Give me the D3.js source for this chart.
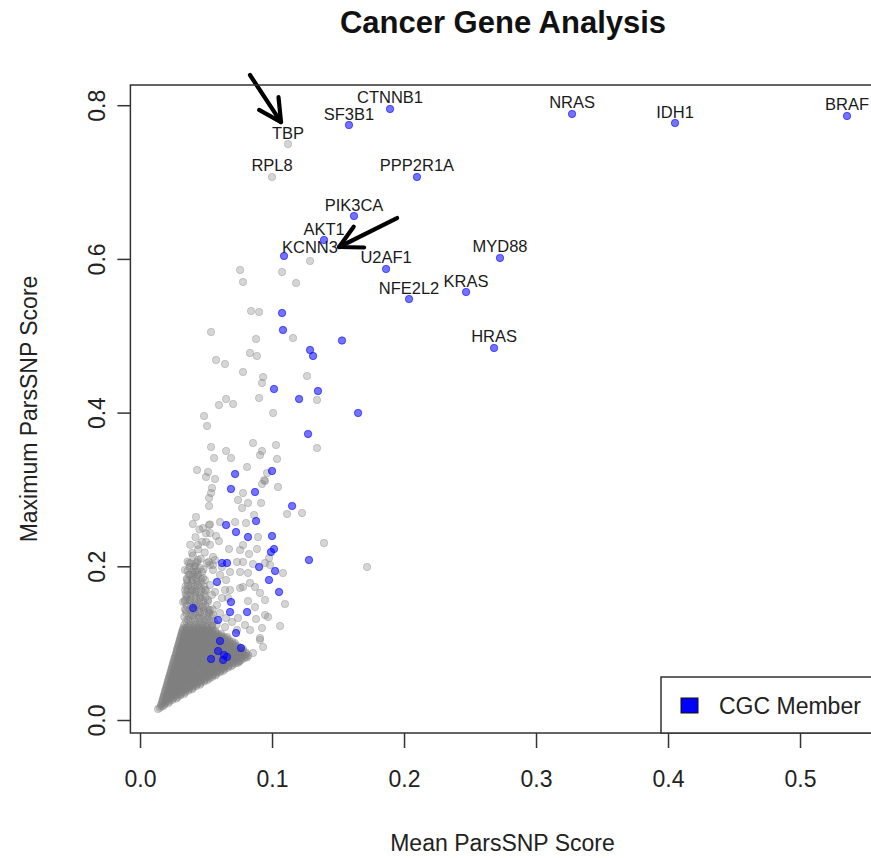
<!DOCTYPE html>
<html>
<head>
<meta charset="utf-8">
<title>Cancer Gene Analysis</title>
<script src="https://cdn.jsdelivr.net/npm/d3@7/dist/d3.min.js"></script>
<style>
  html, body { margin: 0; padding: 0; background: #fff; }
  svg { display: block; font-family: "Liberation Sans", Arial, Helvetica, sans-serif; }
</style>
</head>
<body>
<svg id="chart" width="871" height="858"></svg>
<script>
// ---- Data: mean vs maximum ParsSNP score per gene ----

// Named genes (isCGC: member of the Cancer Gene Census)
const geneNames = ["CTNNB1", "SF3B1", "TBP", "RPL8", "PPP2R1A", "NRAS", "IDH1", "BRAF",
                   "PIK3CA", "AKT1", "KCNN3", "U2AF1", "NFE2L2", "KRAS", "MYD88", "HRAS"];
const geneMean  = [0.1894, 0.1583, 0.1121, 0.1000, 0.2098, 0.3273, 0.4053, 0.5356,
                   0.1621, 0.1394, 0.1091, 0.1864, 0.2038, 0.2470, 0.2727, 0.2682];
const geneMax   = [0.7951, 0.7742, 0.7495, 0.7066, 0.7066, 0.7886, 0.7768, 0.7860,
                   0.6558, 0.6246, 0.6038, 0.5869, 0.5478, 0.5569, 0.6012, 0.4841];
const geneIsCGC = [true, true, false, false, true, true, true, true,
                   true, true, true, true, true, true, true, true];

// Other CGC member genes
const cgcMean = [0.1076, 0.1083, 0.1530, 0.1288, 0.1311, 0.1015, 0.1348, 0.1205, 0.1652, 0.1273,
                 0.0720, 0.1000, 0.0689, 0.0871, 0.1152, 0.0879, 0.0652, 0.0727, 0.0818, 0.1000,
                 0.1015, 0.0992, 0.0621, 0.0659, 0.1280, 0.0902, 0.1023, 0.0977, 0.0583, 0.1053,
                 0.0402, 0.0689, 0.0682, 0.0811, 0.0591, 0.0727, 0.0765, 0.0606, 0.0591, 0.0636,
                 0.0538, 0.0629, 0.0659];
const cgcMax  = [0.5296, 0.5075, 0.4938, 0.4815, 0.4737, 0.4307, 0.4281, 0.4177, 0.3995, 0.3722,
                 0.3201, 0.3240, 0.3006, 0.2967, 0.2785, 0.2589, 0.2537, 0.2446, 0.2381, 0.2394,
                 0.2225, 0.2186, 0.2043, 0.2043, 0.2082, 0.1991, 0.1939, 0.1822, 0.1796, 0.1666,
                 0.1457, 0.1535, 0.1405, 0.1405, 0.1301, 0.1132, 0.0937, 0.1028, 0.0898, 0.0846,
                 0.0794, 0.0781, 0.0820];

// Other (non-CGC) genes outside the dense core
const otherMean = [0.1288, 0.0758, 0.1076, 0.0780, 0.1182, 0.0841, 0.0902, 0.0538, 0.0879, 0.1159,
                   0.0833, 0.0886, 0.0576, 0.0644, 0.0780, 0.0932, 0.0924, 0.1265, 0.0652, 0.0902,
                   0.1341, 0.0598, 0.0705, 0.1008, 0.0485, 0.0508, 0.0856, 0.0538, 0.1030, 0.1341,
                   0.0652, 0.0924, 0.0909, 0.0561, 0.0689, 0.1038, 0.0811, 0.0432, 0.0515, 0.0962,
                   0.0500, 0.0568, 0.0947, 0.0940, 0.0924, 0.1045, 0.0545, 0.0780, 0.0538, 0.0742,
                   0.0818, 0.0523, 0.0523, 0.0773, 0.0917, 0.1114, 0.1227, 0.0424, 0.0864, 0.0803,
                   0.0720, 0.0523, 0.0530, 0.0606, 0.0477, 0.0576, 0.0530, 0.0894, 0.1394, 0.0500,
                   0.0780, 0.0598, 0.0439, 0.0674, 0.0886, 0.0394, 0.0826, 0.0758, 0.0977, 0.0371,
                   0.0735, 0.0856, 0.0985, 0.0553, 0.0780, 0.0947, 0.0553, 0.0439, 0.1083, 0.1720,
                   0.0682, 0.0758, 0.0818, 0.0553, 0.0758, 0.0833, 0.0871, 0.0780, 0.0909, 0.0947,
                   0.0818, 0.0871, 0.0970, 0.0924, 0.0932, 0.0909, 0.0856, 0.0755, 0.0811, 0.1098,
                   0.1061, 0.0947, 0.0879, 0.0909, 0.0742, 0.0356, 0.0326, 0.0735, 0.0136,
                   0.0341, 0.0379, 0.0417, 0.0455, 0.0402, 0.0439, 0.0477, 0.0364, 0.0417, 0.0455,
                   0.0492, 0.0530, 0.0568, 0.0515, 0.0379, 0.0424, 0.0477, 0.0530, 0.0583, 0.0621,
                   0.0644, 0.0606, 0.0652, 0.0682, 0.0667, 0.0348, 0.0394, 0.0447, 0.0500, 0.0553,
                   0.0606, 0.0652, 0.0697, 0.0742, 0.0795, 0.0833, 0.0364, 0.0348, 0.0417, 0.0470,
                   0.0545, 0.0644, 0.0508, 0.0470, 0.0568, 0.0621, 0.0492, 0.0530, 0.0432, 0.0356,
                   0.0394, 0.0341, 0.0439, 0.0341, 0.0402, 0.0455, 0.0545, 0.0520,
                   0.0400, 0.0450, 0.0500, 0.0420, 0.0470, 0.0530, 0.0380, 0.0440, 0.0490, 0.0400,
                   0.0460, 0.0520, 0.0360, 0.0420, 0.0480];
const otherMax  = [0.5973, 0.5856, 0.5830, 0.5699, 0.5686, 0.5322, 0.5309, 0.5049, 0.4958, 0.4970,
                   0.4776, 0.4737, 0.4684, 0.4632, 0.4528, 0.4463, 0.4385, 0.4476, 0.4177, 0.4190,
                   0.4164, 0.4099, 0.4112, 0.3995, 0.3956, 0.3826, 0.3604, 0.3552, 0.3578, 0.3539,
                   0.3500, 0.3500, 0.3448, 0.3409, 0.3409, 0.3396, 0.3292, 0.3253, 0.3227, 0.3214,
                   0.3162, 0.3136, 0.3110, 0.3122, 0.3071, 0.3032, 0.3019, 0.2954, 0.2954, 0.2863,
                   0.2824, 0.2889, 0.2785, 0.2759, 0.2824, 0.2681, 0.2694, 0.2642, 0.2668, 0.2563,
                   0.2576, 0.2537, 0.2545, 0.2576, 0.2498, 0.2394, 0.2433, 0.2381, 0.2303, 0.2316,
                   0.2277, 0.2329, 0.2277, 0.2225, 0.2225, 0.2173, 0.2160, 0.2212, 0.2108, 0.2043,
                   0.2056, 0.2030, 0.2017, 0.2017, 0.2056, 0.2043, 0.2121, 0.2082, 0.1913, 0.1991,
                   0.1926, 0.1926, 0.1913, 0.1952, 0.1718, 0.1783, 0.1731, 0.1731, 0.1653, 0.1561,
                   0.1548, 0.1470, 0.1340, 0.1197, 0.0950, 0.1041, 0.0872, 0.0765, 0.0815, 0.1509,
                   0.1223, 0.1366, 0.1314, 0.1067, 0.0745, 0.1627, 0.1535, 0.1171, 0.0143,
                   0.1952, 0.1887, 0.1926, 0.1978, 0.1822, 0.1757, 0.1848, 0.1744, 0.1666, 0.1588,
                   0.1692, 0.1757, 0.1666, 0.1561, 0.1561, 0.1496, 0.1470, 0.1431, 0.1496, 0.1588,
                   0.1692, 0.1887, 0.1822, 0.1692, 0.1588, 0.1431, 0.1366, 0.1327, 0.1301, 0.1366,
                   0.1392, 0.1327, 0.1275, 0.1327, 0.1236, 0.1171, 0.1301, 0.1197, 0.1236, 0.1236,
                   0.1223, 0.1210, 0.2043, 0.1926, 0.2082, 0.1991, 0.1822, 0.2017, 0.2056, 0.1822,
                   0.1692, 0.1692, 0.1887, 0.1561, 0.1431, 0.1405, 0.1627, 0.1400,
                   0.2550, 0.2480, 0.2430, 0.2380, 0.2320, 0.2280, 0.2280, 0.2220, 0.2180, 0.2140,
                   0.2100, 0.2060, 0.2060, 0.2000, 0.1960];

// Dense core of low-scoring genes: one row of mean scores per maximum-score level
const coreMax = [0.016, 0.018, 0.020, 0.022, 0.024, 0.026, 0.028, 0.030, 0.032, 0.034,
                 0.036, 0.038, 0.040, 0.042, 0.044, 0.046, 0.048, 0.050, 0.052, 0.054,
                 0.056, 0.058, 0.060, 0.062, 0.064, 0.066, 0.068, 0.070, 0.072, 0.074,
                 0.076, 0.078, 0.080, 0.082, 0.084, 0.086, 0.088, 0.090, 0.092, 0.094,
                 0.096, 0.098, 0.100, 0.102, 0.104, 0.106, 0.108, 0.110, 0.112, 0.114,
                 0.116, 0.118, 0.120,
                 0.124, 0.129, 0.134, 0.139, 0.144, 0.149, 0.154, 0.159, 0.164, 0.169,
                 0.174, 0.179, 0.184, 0.189, 0.194, 0.199, 0.204];
const coreMean = [
  [0.015],
  [0.016, 0.0175],
  [0.016, 0.0185],
  [0.0165, 0.019, 0.0215],
  [0.017, 0.0195, 0.022],
  [0.017, 0.0195, 0.022, 0.0245],
  [0.0175, 0.020, 0.0225, 0.025, 0.0275],
  [0.018, 0.0205, 0.023, 0.0255, 0.0285],
  [0.018, 0.0205, 0.023, 0.0255, 0.028, 0.0305],
  [0.0185, 0.021, 0.0235, 0.026, 0.0285, 0.031, 0.0335],
  [0.019, 0.0215, 0.024, 0.0265, 0.029, 0.0315, 0.034],
  [0.019, 0.0215, 0.024, 0.0265, 0.029, 0.0315, 0.034, 0.0365],
  [0.0195, 0.022, 0.0245, 0.027, 0.0295, 0.032, 0.0345, 0.037, 0.0395],
  [0.020, 0.0225, 0.025, 0.0275, 0.030, 0.0325, 0.035, 0.0375, 0.040],
  [0.020, 0.0225, 0.025, 0.0275, 0.030, 0.0325, 0.035, 0.0375, 0.040, 0.0425],
  [0.0205, 0.023, 0.0255, 0.028, 0.0305, 0.033, 0.0355, 0.038, 0.0405, 0.043, 0.0455],
  [0.021, 0.0235, 0.026, 0.0285, 0.031, 0.0335, 0.036, 0.0385, 0.041, 0.0435, 0.046],
  [0.021, 0.0235, 0.026, 0.0285, 0.031, 0.0335, 0.036, 0.0385, 0.041, 0.0435, 0.046, 0.0485],
  [0.0215, 0.024, 0.0265, 0.029, 0.0315, 0.034, 0.0365, 0.039, 0.0415, 0.044, 0.0465, 0.049, 0.051],
  [0.022, 0.0245, 0.027, 0.0295, 0.032, 0.0345, 0.037, 0.0395, 0.042, 0.0445, 0.047, 0.0495, 0.0525],
  [0.022, 0.0245, 0.027, 0.0295, 0.032, 0.0345, 0.037, 0.0395, 0.042, 0.0445, 0.047, 0.0495, 0.052, 0.0545],
  [0.0225, 0.025, 0.0275, 0.030, 0.0325, 0.035, 0.0375, 0.040, 0.0425, 0.045, 0.0475, 0.050, 0.0525, 0.055, 0.057],
  [0.023, 0.0255, 0.028, 0.0305, 0.033, 0.0355, 0.038, 0.0405, 0.043, 0.0455, 0.048, 0.0505, 0.053, 0.0555, 0.058],
  [0.023, 0.0255, 0.028, 0.0305, 0.033, 0.0355, 0.038, 0.0405, 0.043, 0.0455, 0.048, 0.0505, 0.053, 0.0555, 0.058, 0.0605],
  [0.0235, 0.026, 0.0285, 0.031, 0.0335, 0.036, 0.0385, 0.041, 0.0435, 0.046, 0.0485, 0.051, 0.0535, 0.056, 0.0585, 0.061, 0.063],
  [0.024, 0.0265, 0.029, 0.0315, 0.034, 0.0365, 0.039, 0.0415, 0.044, 0.0465, 0.049, 0.0515, 0.054, 0.0565, 0.059, 0.0615, 0.064],
  [0.024, 0.0265, 0.029, 0.0315, 0.034, 0.0365, 0.039, 0.0415, 0.044, 0.0465, 0.049, 0.0515, 0.054, 0.0565, 0.059, 0.0615, 0.064, 0.0665],
  [0.0245, 0.027, 0.0295, 0.032, 0.0345, 0.037, 0.0395, 0.042, 0.0445, 0.047, 0.0495, 0.052, 0.0545, 0.057, 0.0595, 0.062, 0.0645, 0.067, 0.069],
  [0.025, 0.0275, 0.030, 0.0325, 0.035, 0.0375, 0.040, 0.0425, 0.045, 0.0475, 0.050, 0.0525, 0.055, 0.0575, 0.060, 0.0625, 0.065, 0.0675, 0.0705],
  [0.025, 0.0275, 0.030, 0.0325, 0.035, 0.0375, 0.040, 0.0425, 0.045, 0.0475, 0.050, 0.0525, 0.055, 0.0575, 0.060, 0.0625, 0.065, 0.0675, 0.070, 0.0725],
  [0.0255, 0.028, 0.0305, 0.033, 0.0355, 0.038, 0.0405, 0.043, 0.0455, 0.048, 0.0505, 0.053, 0.0555, 0.058, 0.0605, 0.063, 0.0655, 0.068, 0.0705, 0.0745],
  [0.026, 0.0285, 0.031, 0.0335, 0.036, 0.0385, 0.041, 0.0435, 0.046, 0.0485, 0.051, 0.0535, 0.056, 0.0585, 0.061, 0.0635, 0.066, 0.0685, 0.071, 0.0735, 0.0765],
  [0.026, 0.0285, 0.031, 0.0335, 0.036, 0.0385, 0.041, 0.0435, 0.046, 0.0485, 0.051, 0.0535, 0.056, 0.0585, 0.061, 0.0635, 0.066, 0.0685, 0.071, 0.0735, 0.076, 0.0785],
  [0.0265, 0.029, 0.0315, 0.034, 0.0365, 0.039, 0.0415, 0.044, 0.0465, 0.049, 0.0515, 0.054, 0.0565, 0.059, 0.0615, 0.064, 0.0665, 0.069, 0.0715, 0.074, 0.0765, 0.080],
  [0.027, 0.0295, 0.032, 0.0345, 0.037, 0.0395, 0.042, 0.0445, 0.047, 0.0495, 0.052, 0.0545, 0.057, 0.0595, 0.062, 0.0645, 0.067, 0.0695, 0.072, 0.0745, 0.077, 0.0795, 0.082],
  [0.0275, 0.030, 0.0325, 0.035, 0.0375, 0.040, 0.0425, 0.045, 0.0475, 0.050, 0.0525, 0.055, 0.0575, 0.060, 0.0625, 0.065, 0.0675, 0.070, 0.0725, 0.075, 0.0775, 0.0805],
  [0.0275, 0.030, 0.0325, 0.035, 0.0375, 0.040, 0.0425, 0.045, 0.0475, 0.050, 0.0525, 0.055, 0.0575, 0.060, 0.0625, 0.065, 0.0675, 0.070, 0.0725, 0.075, 0.0775, 0.080],
  [0.028, 0.0305, 0.033, 0.0355, 0.038, 0.0405, 0.043, 0.0455, 0.048, 0.0505, 0.053, 0.0555, 0.058, 0.0605, 0.063, 0.0655, 0.068, 0.0705, 0.073, 0.0755, 0.078],
  [0.028, 0.0305, 0.033, 0.0355, 0.038, 0.0405, 0.043, 0.0455, 0.048, 0.0505, 0.053, 0.0555, 0.058, 0.0605, 0.063, 0.0655, 0.068, 0.0705, 0.073, 0.0755, 0.078],
  [0.0285, 0.031, 0.0335, 0.036, 0.0385, 0.041, 0.0435, 0.046, 0.0485, 0.051, 0.0535, 0.056, 0.0585, 0.061, 0.0635, 0.066, 0.0685, 0.071, 0.0735, 0.076],
  [0.029, 0.0315, 0.034, 0.0365, 0.039, 0.0415, 0.044, 0.0465, 0.049, 0.0515, 0.054, 0.0565, 0.059, 0.0615, 0.064, 0.0665, 0.069, 0.0715, 0.074],
  [0.029, 0.0315, 0.034, 0.0365, 0.039, 0.0415, 0.044, 0.0465, 0.049, 0.0515, 0.054, 0.0565, 0.059, 0.0615, 0.064, 0.0665, 0.069, 0.0715],
  [0.0295, 0.032, 0.0345, 0.037, 0.0395, 0.042, 0.0445, 0.047, 0.0495, 0.052, 0.0545, 0.057, 0.0595, 0.062, 0.0645, 0.067, 0.0695, 0.072],
  [0.030, 0.0325, 0.035, 0.0375, 0.040, 0.0425, 0.045, 0.0475, 0.050, 0.0525, 0.055, 0.0575, 0.060, 0.0625, 0.065, 0.0675, 0.070],
  [0.030, 0.0325, 0.035, 0.0375, 0.040, 0.0425, 0.045, 0.0475, 0.050, 0.0525, 0.055, 0.0575, 0.060, 0.0625, 0.065, 0.0675],
  [0.0305, 0.033, 0.0355, 0.038, 0.0405, 0.043, 0.0455, 0.048, 0.0505, 0.053, 0.0555, 0.058, 0.0605, 0.063, 0.0655],
  [0.031, 0.0335, 0.036, 0.0385, 0.041, 0.0435, 0.046, 0.0485, 0.051, 0.0535, 0.056, 0.0585, 0.061, 0.0635, 0.066],
  [0.031, 0.0335, 0.036, 0.0385, 0.041, 0.0435, 0.046, 0.0485, 0.051, 0.0535, 0.056, 0.0585, 0.061],
  [0.0315, 0.034, 0.0365, 0.039, 0.0415, 0.044, 0.0465, 0.049, 0.0515, 0.054, 0.0565, 0.059, 0.0615],
  [0.032, 0.0345, 0.037, 0.0395, 0.042, 0.0445, 0.047, 0.0495, 0.052, 0.0545, 0.057],
  [0.032, 0.0345, 0.037, 0.0395, 0.042, 0.0445, 0.047, 0.0495, 0.052, 0.0545, 0.057],
  [0.0325, 0.035, 0.0375, 0.040, 0.0425, 0.045, 0.0475, 0.050, 0.0525, 0.055],
  [0.033, 0.0355, 0.038, 0.0405, 0.043, 0.0455, 0.048, 0.0505, 0.053],
  [0.0335, 0.037, 0.0405, 0.044, 0.0475, 0.051, 0.0545, 0.058],
  [0.035, 0.0385, 0.042, 0.0455, 0.049, 0.0525, 0.056],
  [0.0335, 0.037, 0.0405, 0.044, 0.0475, 0.051, 0.0545],
  [0.035, 0.0385, 0.042, 0.0455, 0.049, 0.0525],
  [0.034, 0.0375, 0.041, 0.0445, 0.048, 0.0515, 0.055],
  [0.0355, 0.039, 0.0425, 0.046, 0.0495],
  [0.034, 0.0375, 0.041, 0.0445, 0.048, 0.0515],
  [0.0355, 0.039, 0.0425, 0.046, 0.0495],
  [0.0345, 0.038, 0.0415, 0.045, 0.0485],
  [0.036, 0.0395, 0.043, 0.0465, 0.050],
  [0.0345, 0.038, 0.0415, 0.045, 0.0485],
  [0.036, 0.0395, 0.043, 0.0465],
  [0.0355, 0.039, 0.0425, 0.046],
  [0.037, 0.0405, 0.044],
  [0.036, 0.0395, 0.043],
  [0.0375, 0.041],
  [0.0385, 0.042]
];

// Annotation arrows (mean, max) pointing at TBP and KCNN3
const arrowFrom = [[0.0833, 0.8393], [0.1947, 0.6532]];
const arrowTo   = [[0.1068, 0.7781], [0.1508, 0.6155]];

const xTicks = [0, 0.1, 0.2, 0.3, 0.4, 0.5];
const yTicks = [0, 0.2, 0.4, 0.6, 0.8];

const chartTitle = "Cancer Gene Analysis";
const xTitle = "Mean ParsSNP Score";
const yTitle = "Maximum ParsSNP Score";
const legendLabel = "CGC Member";

// ---- Layout ----
const svg = d3.select("#chart");
const plot = { left: 130.4, right: 874.6, top: 85, bottom: 733 };

const x = d3.scaleLinear().domain([-0.0073, 0.5565]).range([plot.left, plot.right]);
const y = d3.scaleLinear().domain([-0.0169, 0.8263]).range([plot.bottom, plot.top]);

const greyFill = "rgba(128,128,128,0.33)";
const blueFill = "rgba(0,0,255,0.55)";
const R = 3.7;

const pts = (xs, ys) => xs.map((v, i) => ({ mx: v, my: ys[i] }));

const corePts = [];
coreMax.forEach((m, i) => coreMean[i].forEach(v => corePts.push({ mx: v, my: m })));

const greyPts = corePts.concat(pts(otherMean, otherMax));
const bluePts = pts(cgcMean, cgcMax);
const genes = geneNames.map((g, i) => ({ name: g, mx: geneMean[i], my: geneMax[i], cgc: geneIsCGC[i] }));

function drawPoints(data, color, cls) {
  svg.append("g").attr("class", cls)
    .selectAll("circle").data(data).join("circle")
    .attr("cx", d => x(d.mx))
    .attr("cy", d => y(d.my))
    .attr("r", R)
    .attr("fill", color)
    .attr("stroke", color)
    .attr("stroke-width", 1);
}

drawPoints(greyPts, greyFill, "grey-points");
drawPoints(genes.filter(d => !d.cgc), greyFill, "grey-named");
drawPoints(bluePts, blueFill, "cgc-points");
drawPoints(genes.filter(d => d.cgc), blueFill, "cgc-named");

// Gene labels above their points
const labelNudge = { KCNN3: { dx: -2, dy: -3, anchor: "start" } };
svg.append("g").attr("class", "gene-labels")
  .selectAll("text").data(genes).join("text")
  .attr("x", d => x(d.mx) + (labelNudge[d.name] ? labelNudge[d.name].dx : 0))
  .attr("y", d => y(d.my) + (labelNudge[d.name] ? labelNudge[d.name].dy : -5.5))
  .attr("text-anchor", d => labelNudge[d.name] ? labelNudge[d.name].anchor : "middle")
  .attr("font-size", 16.5)
  .attr("fill", "#1a1a1a")
  .text(d => d.name);

// Arrows
const arrows = arrowFrom.map((f, i) => ({ x1: x(f[0]), y1: y(f[1]), x2: x(arrowTo[i][0]), y2: y(arrowTo[i][1]) }));
const ag = svg.append("g").attr("class", "arrows")
  .attr("stroke", "#000").attr("stroke-width", 4.2).attr("fill", "none")
  .attr("stroke-linecap", "round").attr("stroke-linejoin", "round");
arrows.forEach(a => {
  const ang = Math.atan2(a.y2 - a.y1, a.x2 - a.x1);
  const L = 25, spread = Math.PI / 6.5;
  const h1 = [a.x2 - L * Math.cos(ang - spread), a.y2 - L * Math.sin(ang - spread)];
  const h2 = [a.x2 - L * Math.cos(ang + spread), a.y2 - L * Math.sin(ang + spread)];
  ag.append("line").attr("x1", a.x1).attr("y1", a.y1).attr("x2", a.x2).attr("y2", a.y2);
  ag.append("path").attr("d", `M${h1[0]},${h1[1]}L${a.x2},${a.y2}L${h2[0]},${h2[1]}`);
});

// Plot frame
svg.append("rect")
  .attr("x", plot.left).attr("y", plot.top)
  .attr("width", plot.right - plot.left).attr("height", plot.bottom - plot.top)
  .attr("fill", "none").attr("stroke", "#333").attr("stroke-width", 1.5);

// Axes
const axisFont = 23;
const xAxis = svg.append("g")
  .attr("transform", `translate(0,${plot.bottom})`)
  .call(d3.axisBottom(x).tickValues(xTicks).tickFormat(d3.format(".1f"))
        .tickSize(15).tickSizeOuter(0).tickPadding(23));
xAxis.select(".domain").remove();
xAxis.selectAll(".tick line").attr("stroke", "#333").attr("stroke-width", 1.5);
xAxis.selectAll(".tick text").attr("font-size", axisFont).attr("fill", "#222")
  .attr("font-family", "Liberation Sans, Arial, sans-serif");

const yAxis = svg.append("g")
  .attr("transform", `translate(${plot.left},0)`)
  .call(d3.axisLeft(y).tickValues(yTicks).tickFormat(d3.format(".1f"))
        .tickSize(13).tickSizeOuter(0));
yAxis.select(".domain").remove();
yAxis.selectAll(".tick line").attr("stroke", "#333").attr("stroke-width", 1.5);
yAxis.selectAll(".tick text")
  .attr("x", 0).attr("dy", 0)
  .attr("text-anchor", "middle")
  .attr("transform", "translate(-25,0) rotate(-90)")
  .attr("font-size", axisFont).attr("fill", "#222")
  .attr("font-family", "Liberation Sans, Arial, sans-serif");

// Titles
svg.append("text")
  .attr("x", 503).attr("y", 33)
  .attr("text-anchor", "middle")
  .attr("font-size", 31).attr("font-weight", "bold").attr("fill", "#111")
  .text(chartTitle);

svg.append("text")
  .attr("x", (plot.left + plot.right) / 2).attr("y", 851)
  .attr("text-anchor", "middle")
  .attr("font-size", axisFont).attr("fill", "#222")
  .text(xTitle);

svg.append("text")
  .attr("transform", `translate(37,${(plot.top + plot.bottom) / 2}) rotate(-90)`)
  .attr("text-anchor", "middle")
  .attr("font-size", axisFont).attr("fill", "#222")
  .text(yTitle);

// Legend
const lg = svg.append("g").attr("class", "legend");
lg.append("rect")
  .attr("x", 661).attr("y", 677).attr("width", 240).attr("height", plot.bottom - 677)
  .attr("fill", "#fff").attr("stroke", "#333").attr("stroke-width", 1.5);
lg.append("rect")
  .attr("x", 681).attr("y", 698).attr("width", 17).attr("height", 15)
  .attr("fill", "#0000ff").attr("stroke", "#111").attr("stroke-width", 1);
lg.append("text")
  .attr("x", 719).attr("y", 714)
  .attr("font-size", axisFont).attr("fill", "#222")
  .text(legendLabel);
</script>
</body>
</html>
